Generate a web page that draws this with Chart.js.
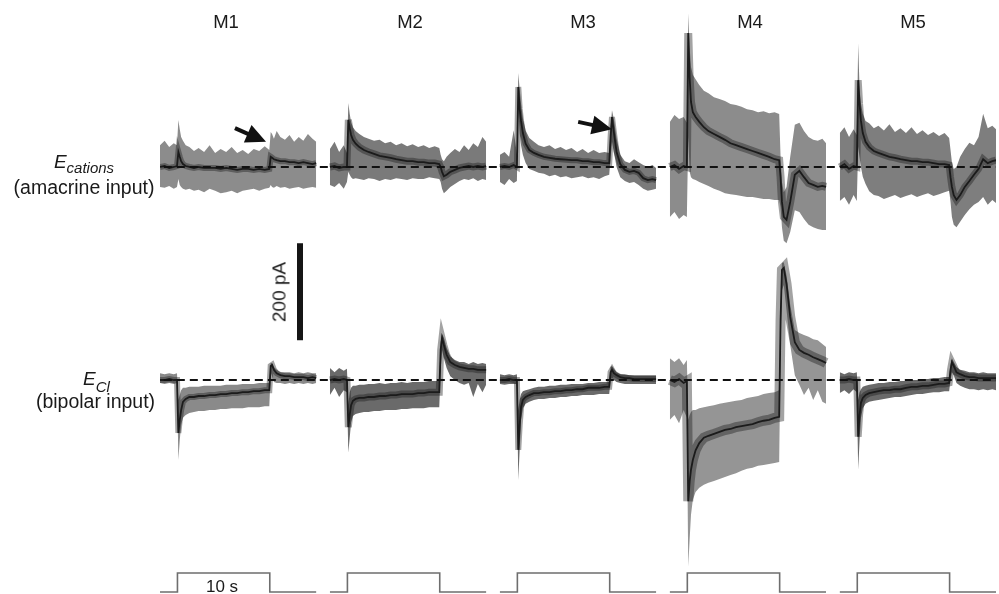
<!DOCTYPE html>
<html>
<head>
<meta charset="utf-8">
<title>Amacrine and bipolar input, M1-M5</title>
<script src="https://cdn.jsdelivr.net/npm/chart.js@4.4.0/dist/chart.umd.min.js"></script>
<style>
    html, body { margin: 0; padding: 0; background: #fff; }
    #wrap { position: relative; width: 999px; height: 594px; font-family: "Liberation Sans", Arial, sans-serif; color: #1a1a1a; }
    #wrap canvas { position: absolute; left: 0; top: 0; }
    .lbl { position: absolute; white-space: nowrap; line-height: 1; transform: translateX(-50%); }
    .sub { position: relative; font-style: italic; }
</style>
</head>
<body>
<div id="wrap">
    <canvas id="traces" width="999" height="594"></canvas>

    <div class="lbl" style="left:226px; top:12.6px; font-size:18.5px">M1</div>
    <div class="lbl" style="left:410px; top:12.6px; font-size:18.5px">M2</div>
    <div class="lbl" style="left:583px; top:12.6px; font-size:18.5px">M3</div>
    <div class="lbl" style="left:750px; top:12.6px; font-size:18.5px">M4</div>
    <div class="lbl" style="left:913px; top:12.6px; font-size:18.5px">M5</div>

    <div class="lbl" style="left:84px; top:152px; font-size:19px"><i>E</i><span class="sub" style="font-size:15px; top:5px">cations</span></div>
    <div class="lbl" style="left:84px; top:177.5px; font-size:19.5px">(amacrine input)</div>
    <div class="lbl" style="left:96.5px; top:369px; font-size:19px"><i>E</i><span class="sub" style="font-size:15px; top:7px">Cl</span></div>
    <div class="lbl" style="left:95.5px; top:392px; font-size:19.5px">(bipolar input)</div>

    <div class="lbl" style="left:279px; top:292px; font-size:19px; transform:translate(-50%, -50%) rotate(-90deg)">200 pA</div>
    <div class="lbl" style="left:222px; top:577.6px; font-size:17px">10 s</div>
</div>

<script>
// time (s) within one panel; every trace is sampled on this grid
const timeGrid = [0, 0.5, 1.0, 1.5, 1.85,
    2.0, 2.15, 2.3, 2.5, 2.8, 3.2, 3.7, 4.2, 4.8, 5.4, 6.0, 6.6, 7.2, 7.8, 8.4, 9.0, 9.6, 10.2, 10.8, 11.4, 11.9,
    12.05, 12.2, 12.4, 12.7, 13.1, 13.6, 14.1, 14.6, 15.1, 15.6, 16.1, 16.6, 17.0];
const panelLabels = ['M1', 'M2', 'M3', 'M4', 'M5'];
const panelOffset = [0, 18.5, 37, 55.5, 74];

// light step (10 s)
const stimTimes = [0, 1.9, 1.9, 11.95, 11.95, 17];
const stimLevels = [0, 0, 1, 1, 0, 0];

// currents in pA relative to the holding baseline: mean, upper and lower edge of the trace spread
// E_cations (amacrine input)
const m1AmaMean = [0, 2, -2, 0, 2, 31, 21, 12, 6, 2, 0, -2, 0, -2, -2, -2, -4, -2, -4, -6, -4, -4, -6, -4, -6, -4, 21, 19, 16, 14, 12, 12, 10, 10, 8, 10, 8, 6, 8];
const m1AmaHi = [45, 54, 41, 49, 45, 97, 78, 62, 54, 45, 41, 33, 39, 31, 45, 29, 37, 31, 41, 29, 35, 27, 37, 33, 43, 35, 72, 68, 58, 74, 62, 56, 66, 52, 62, 54, 68, 58, 52];
const m1AmaLo = [-41, -43, -39, -45, -41, -25, -37, -41, -45, -47, -45, -49, -47, -52, -45, -49, -54, -52, -49, -54, -49, -47, -45, -49, -45, -43, -37, -41, -43, -39, -43, -41, -45, -43, -41, -45, -43, -41, -43];

const m2AmaMean = [0, 2, -2, 0, 0, 97, 80, 66, 56, 48, 41, 35, 31, 27, 23, 21, 19, 16, 14, 12, 12, 10, 10, 8, 8, 6, 0, -10, -19, -16, -10, -6, -2, 0, 2, 0, 2, 0, 2];
const m2AmaHi = [37, 52, 31, 45, 29, 132, 110, 92, 82, 74, 68, 62, 58, 54, 56, 49, 52, 45, 49, 43, 47, 41, 45, 39, 43, 39, 25, 16, 12, 21, 29, 37, 31, 45, 35, 49, 41, 62, 52];
const m2AmaLo = [-37, -41, -33, -45, -31, -10, -16, -21, -25, -23, -25, -27, -23, -25, -29, -25, -27, -23, -25, -27, -23, -25, -25, -21, -23, -25, -31, -45, -54, -49, -41, -35, -29, -25, -27, -23, -29, -25, -27];

const m3AmaMean = [0, 2, 0, 4, 0, 165, 120, 95, 70, 48, 35, 29, 25, 21, 19, 17, 16, 15, 14, 14, 12, 12, 10, 10, 8, 8, 62, 103, 72, 31, 6, -6, -10, -8, -12, -23, -27, -25, -27];
const m3AmaHi = [25, 31, 21, 76, 25, 194, 160, 130, 100, 75, 60, 52, 45, 41, 45, 37, 41, 35, 39, 31, 37, 29, 35, 29, 31, 29, 82, 117, 99, 58, 25, 12, 8, 16, 10, 4, 0, 4, -2];
const m3AmaLo = [-31, -37, -25, -33, -29, 120, 70, 45, 25, 8, -4, -8, -12, -14, -19, -16, -21, -19, -23, -21, -19, -23, -21, -25, -19, -16, 21, 52, 31, 0, -21, -29, -33, -31, -37, -45, -49, -47, -45];

const m4AmaMean = [0, 4, -4, 2, 0, 276, 185, 134, 113, 103, 93, 82, 74, 68, 62, 56, 49, 45, 41, 37, 33, 29, 25, 21, 16, 14, -21, -72, -103, -109, -72, -16, -8, -21, -33, -37, -41, -39, -41];
const m4AmaHi = [93, 107, 99, 103, 91, 317, 247, 206, 190, 181, 169, 157, 152, 144, 140, 136, 130, 128, 124, 119, 117, 113, 115, 111, 113, 109, 21, -31, -52, -41, 21, 87, 91, 74, 62, 56, 54, 58, 49];
const m4AmaLo = [-103, -93, -107, -99, -103, 62, -10, -21, -25, -27, -31, -35, -39, -45, -49, -54, -56, -58, -60, -62, -62, -64, -66, -66, -68, -68, -82, -124, -152, -157, -134, -89, -93, -107, -119, -124, -128, -130, -130];

const m5AmaMean = [0, 6, -4, 2, 0, 179, 130, 95, 70, 52, 41, 33, 29, 25, 21, 19, 16, 14, 12, 12, 10, 10, 8, 6, 6, 4, -21, -41, -58, -68, -58, -41, -29, -16, -4, 16, 8, 12, 14];
const m5AmaHi = [70, 82, 62, 78, 66, 255, 160, 130, 110, 95, 90, 80, 85, 75, 88, 72, 80, 70, 82, 68, 76, 66, 72, 64, 70, 60, 35, 10, -4, 0, 21, 37, 50, 45, 62, 110, 80, 85, 78];
const m5AmaLo = [-70, -62, -78, -58, -70, 41, 20, 0, -20, -35, -50, -58, -60, -66, -62, -58, -64, -60, -56, -62, -58, -54, -60, -56, -52, -49, -72, -103, -119, -124, -113, -99, -87, -78, -72, -62, -78, -68, -74];

// E_Cl (bipolar input)
const m1BipMean = [0, 0, 2, 0, 0, -109, -82, -62, -45, -39, -35, -35, -33, -33, -31, -31, -29, -29, -27, -27, -25, -25, -23, -23, -21, -21, 29, 31, 21, 14, 10, 8, 8, 6, 6, 6, 4, 6, 4];
const m1BipHi = [14, 12, 14, 12, 14, -41, -31, -21, -16, -16, -14, -14, -14, -12, -12, -12, -12, -10, -10, -10, -8, -8, -8, -6, -6, -6, 35, 35, 27, 21, 16, 16, 16, 14, 16, 14, 16, 14, 14];
const m1BipLo = [-6, -8, -6, -8, -6, -165, -124, -93, -78, -72, -68, -66, -64, -64, -62, -62, -60, -60, -58, -58, -58, -56, -56, -56, -54, -54, 16, 8, -4, -6, -6, -8, -6, -8, -6, -8, -6, -8, -6];

const m2BipMean = [0, 2, 0, 2, 0, -97, -72, -52, -43, -39, -37, -37, -35, -35, -33, -33, -31, -31, -29, -29, -29, -27, -27, -25, -25, -25, 62, 87, 72, 52, 37, 31, 27, 25, 23, 23, 21, 21, 21];
const m2BipHi = [25, 16, 25, 19, 23, -52, -25, -16, -12, -12, -10, -10, -8, -8, -6, -8, -6, -6, -4, -6, -4, -4, -4, -2, -2, -2, 78, 95, 87, 66, 49, 41, 37, 37, 33, 37, 33, 35, 33];
const m2BipLo = [-31, -16, -35, -21, -25, -150, -119, -87, -74, -70, -68, -66, -66, -64, -64, -62, -62, -62, -60, -60, -58, -58, -58, -56, -56, -56, 21, 62, 45, 25, 8, 0, -6, -10, -6, -35, -8, -25, -10];

const m3BipMean = [0, 0, 2, 0, 0, -144, -93, -56, -41, -35, -31, -27, -27, -25, -25, -23, -23, -21, -21, -19, -19, -16, -16, -16, -14, -14, 16, 21, 14, 10, 6, 4, 4, 2, 2, 2, 2, 2, 2];
const m3BipHi = [12, 10, 12, 10, 12, -62, -41, -29, -23, -21, -19, -16, -14, -14, -12, -12, -10, -10, -8, -8, -8, -6, -6, -4, -4, -4, 27, 29, 23, 16, 12, 12, 10, 10, 10, 10, 10, 10, 10];
const m3BipLo = [-8, -10, -8, -8, -8, -206, -144, -82, -58, -49, -45, -41, -39, -39, -37, -37, -35, -35, -33, -33, -31, -31, -31, -29, -29, -29, 0, 4, 0, -4, -6, -8, -8, -8, -8, -8, -8, -8, -8];

const m4BipMean = [0, -4, 2, -6, -2, -250, -210, -185, -165, -145, -130, -119, -115, -111, -107, -103, -101, -97, -95, -93, -91, -87, -84, -82, -78, -76, 124, 227, 231, 198, 130, 78, 62, 56, 52, 47, 43, 39, 35];
const m4BipHi = [45, 37, 45, 31, 41, -82, -72, -66, -62, -62, -58, -56, -54, -52, -49, -47, -45, -43, -41, -37, -35, -33, -29, -27, -25, -21, 144, 241, 243, 216, 155, 103, 97, 93, 89, 84, 82, 74, 68];
const m4BipLo = [-82, -72, -89, -62, -78, -385, -330, -278, -247, -231, -222, -216, -212, -208, -204, -200, -196, -192, -187, -183, -181, -177, -175, -173, -171, -169, 62, 185, 196, 144, 72, 10, -10, -31, -16, -41, -21, -45, -49];

const m5BipMean = [0, 0, 2, 0, 0, -117, -72, -47, -37, -31, -27, -25, -23, -21, -21, -19, -19, -16, -14, -14, -12, -12, -10, -8, -8, -6, 21, 37, 29, 16, 12, 8, 6, 6, 4, 4, 4, 4, 4];
const m5BipHi = [16, 12, 16, 14, 16, -41, -25, -19, -14, -12, -10, -8, -6, -6, -4, -4, -2, -2, 0, 0, 2, 2, 4, 4, 6, 6, 31, 45, 37, 27, 21, 19, 16, 16, 14, 16, 14, 14, 14];
const m5BipLo = [-27, -21, -29, -19, -25, -185, -124, -78, -58, -49, -45, -43, -41, -39, -37, -35, -35, -33, -31, -29, -29, -27, -25, -25, -23, -23, 0, 16, 10, -6, -12, -16, -19, -19, -21, -19, -21, -19, -21];

// scale bar, 200 pA
const scaleBarPA = [82, 282];

// draws the two black arrows
const arrowPlugin = {
    id: 'arrows',
    afterDatasetsDraw(chart, args, opts) {
        const ctx = chart.ctx;
        const xs = chart.scales.x, ys = chart.scales.yUp;
        ctx.save();
        ctx.fillStyle = '#111';
        ctx.strokeStyle = '#111';
        opts.items.forEach(a => {
            const x0 = xs.getPixelForValue(a.from[0]), y0 = ys.getPixelForValue(a.from[1]);
            const x1 = xs.getPixelForValue(a.to[0]), y1 = ys.getPixelForValue(a.to[1]);
            const ang = Math.atan2(y1 - y0, x1 - x0);
            const head = 20, half = 9.5;
            const bx = x1 - head * Math.cos(ang), by = y1 - head * Math.sin(ang);
            ctx.lineWidth = 4;
            ctx.beginPath();
            ctx.moveTo(x0, y0);
            ctx.lineTo(bx + 2 * Math.cos(ang), by + 2 * Math.sin(ang));
            ctx.stroke();
            ctx.beginPath();
            ctx.moveTo(x1, y1);
            ctx.lineTo(bx + half * Math.sin(ang), by - half * Math.cos(ang));
            ctx.lineTo(bx - half * Math.sin(ang), by + half * Math.cos(ang));
            ctx.closePath();
            ctx.fill();
        });
        ctx.restore();
    }
};

document.addEventListener('DOMContentLoaded', function () {
    const amacrine = [
        [m1AmaLo, m1AmaHi, m1AmaMean],
        [m2AmaLo, m2AmaHi, m2AmaMean],
        [m3AmaLo, m3AmaHi, m3AmaMean],
        [m4AmaLo, m4AmaHi, m4AmaMean],
        [m5AmaLo, m5AmaHi, m5AmaMean]
    ];
    const bipolar = [
        [m1BipLo, m1BipHi, m1BipMean],
        [m2BipLo, m2BipHi, m2BipMean],
        [m3BipLo, m3BipHi, m3BipMean],
        [m4BipLo, m4BipHi, m4BipMean],
        [m5BipLo, m5BipHi, m5BipMean]
    ];
    const upperFill = ['#8c8c8c', '#7a7a7a', '#7a7a7a', '#8c8c8c', '#7e7e7e'];
    const lowerFill = ['#8a8a8a', '#6a6a6a', '#6a6a6a', '#959595', '#6a6a6a'];
    const upperCore = [6, 7, 6, 8, 7];
    const lowerCore = [6, 7, 6, 10, 7];

    const pts = (values, p) => values.map((v, i) => ({ x: timeGrid[i] + panelOffset[p], y: v }));
    const datasets = [];

    function addTrace(trace, p, axis, fillColor, coreWidth) {
        const [lo, hi, mean] = trace;
        datasets.push({ label: panelLabels[p] + ' lo', data: pts(lo, p), yAxisID: axis, borderColor: 'rgba(0,0,0,0)', borderWidth: 1, fill: false, order: 3 });
        datasets.push({ label: panelLabels[p] + ' hi', data: pts(hi, p), yAxisID: axis, borderColor: 'rgba(0,0,0,0)', borderWidth: 1, fill: '-1', backgroundColor: fillColor, order: 3 });
        // dense core where most sweeps overlap
        datasets.push({ label: panelLabels[p] + ' core', data: pts(mean, p), yAxisID: axis, borderColor: 'rgba(25,25,25,0.4)', borderWidth: coreWidth, fill: false, order: 2.5 });
        datasets.push({ label: panelLabels[p], data: pts(mean, p), yAxisID: axis, borderColor: '#1b1b1b', borderWidth: 1.8, fill: false, order: 2 });
    }

    panelLabels.forEach((name, p) => {
        addTrace(amacrine[p], p, 'yUp', upperFill[p], upperCore[p]);
        addTrace(bipolar[p], p, 'yLo', lowerFill[p], lowerCore[p]);
        datasets.push({
            label: name + ' light',
            data: stimTimes.map((t, i) => ({ x: t + panelOffset[p], y: stimLevels[i] })),
            yAxisID: 'yStim', borderColor: '#6e6e6e', borderWidth: 1.6, fill: false, order: 1
        });
    });

    // dashed reversal-potential baselines
    ['yUp', 'yLo'].forEach(axis => {
        datasets.push({
            label: 'baseline', data: [{ x: -1, y: 0 }, { x: 92, y: 0 }], yAxisID: axis,
            borderColor: '#111', borderWidth: 2, borderDash: [8, 5], fill: false, order: 0
        });
    });

    datasets.push({
        label: '200 pA', data: scaleBarPA.map(v => ({ x: 15.24, y: v })), yAxisID: 'yLo',
        borderColor: '#151515', borderWidth: 6, borderCapStyle: 'butt', fill: false, order: 0
    });

    new Chart(document.getElementById('traces'), {
        type: 'line',
        data: { datasets: datasets },
        options: {
            responsive: false,
            animation: false,
            devicePixelRatio: 1,
            events: [],
            layout: { padding: { left: 160, right: 3, top: 0, bottom: 0 } },
            elements: { point: { radius: 0, hoverRadius: 0 }, line: { tension: 0 } },
            plugins: {
                legend: { display: false },
                tooltip: { enabled: false },
                arrows: {
                    items: [
                        { from: [8.16, 80], to: [11.54, 52] },
                        { from: [37 + 8.52, 93], to: [37 + 12.19, 78] }
                    ]
                }
            },
            scales: {
                x: { type: 'linear', min: 0, max: 91, display: false },
                y: { display: false },
                yUp: { type: 'linear', min: -880.4, max: 344.3, display: false },
                yLo: { type: 'linear', min: -441.2, max: 783.5, display: false },
                yStim: { type: 'linear', min: -0.105, max: 31.16, display: false }
            }
        },
        plugins: [arrowPlugin]
    });
});
</script>
</body>
</html>
